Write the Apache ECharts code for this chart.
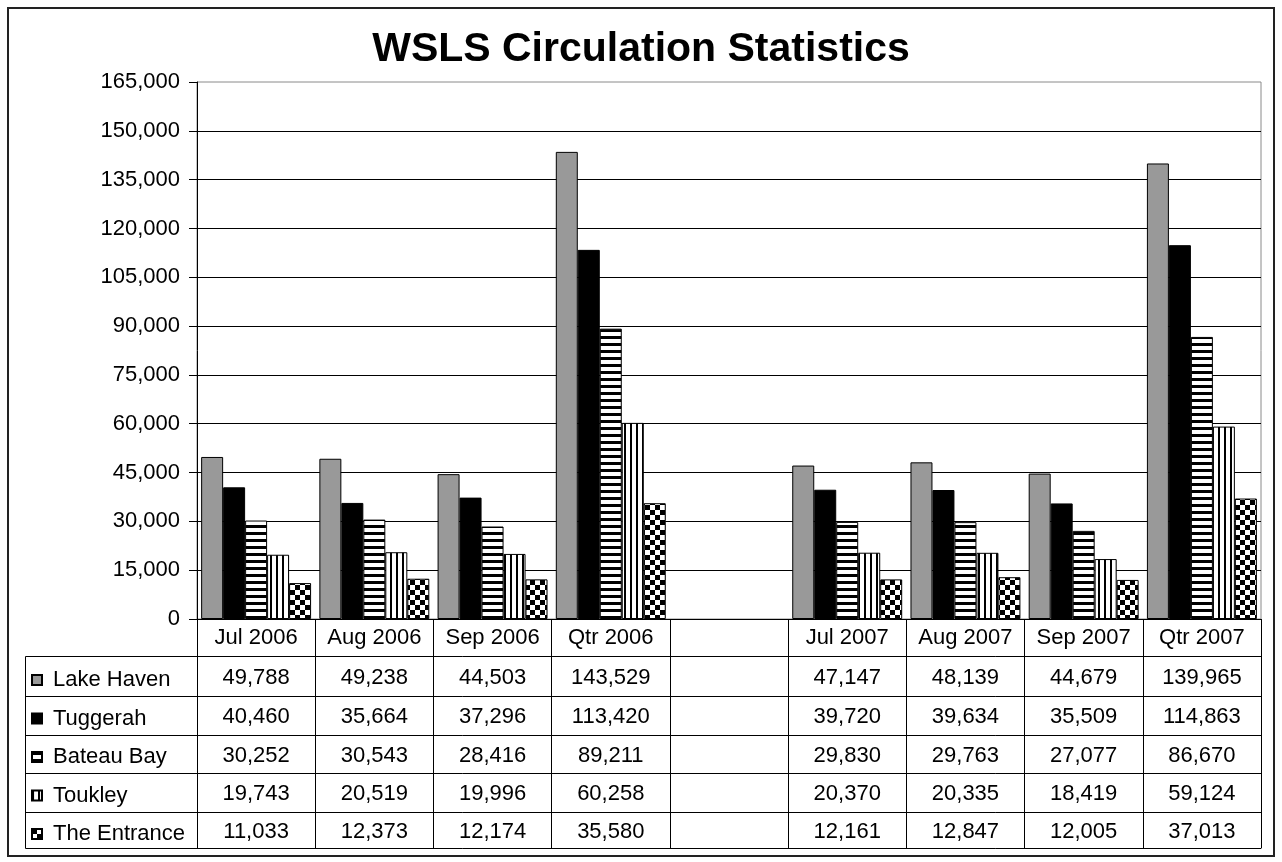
<!DOCTYPE html>
<html>
<head>
<meta charset="utf-8">
<title>WSLS Circulation Statistics</title>
<script src="https://cdn.jsdelivr.net/npm/echarts@6/dist/echarts.min.js"></script>
<style>
  html, body { margin: 0; padding: 0; background: #fff; }
  #chart { width: 1282px; height: 862px; }
</style>
</head>
<body>
<div id="chart"></div>
<script>
// ---- data ----
const categories = ['Jul 2006', 'Aug 2006', 'Sep 2006', 'Qtr 2006', '', 'Jul 2007', 'Aug 2007', 'Sep 2007', 'Qtr 2007'];
const seriesNames = ['Lake Haven', 'Tuggerah', 'Bateau Bay', 'Toukley', 'The Entrance'];
const lakeHaven   = [49788, 49238, 44503, 143529, null, 47147, 48139, 44679, 139965];
const tuggerah    = [40460, 35664, 37296, 113420, null, 39720, 39634, 35509, 114863];
const bateauBay   = [30252, 30543, 28416,  89211, null, 29830, 29763, 27077,  86670];
const toukley     = [19743, 20519, 19996,  60258, null, 20370, 20335, 18419,  59124];
const theEntrance = [11033, 12373, 12174,  35580, null, 12161, 12847, 12005,  37013];
const yMin = 0, yMax = 165000, yStep = 15000;

// ---- layout ----
const FONT = "'Liberation Sans', Arial, Helvetica, sans-serif";
const PLOT_LEFT = 197, PLOT_RIGHT = 1261, PLOT_TOP = 82, PLOT_BOTTOM = 619;
const TABLE_LEFT = 25;
const rowEdges = [656, 696, 735, 773, 812, 848];

// ---- fill patterns ----
function makePattern(w, h, draw) {
  const c = document.createElement('canvas');
  c.width = w; c.height = h;
  const g = c.getContext('2d');
  g.fillStyle = '#fff'; g.fillRect(0, 0, w, h);
  g.fillStyle = '#000';
  draw(g, w, h);
  return { image: c, repeat: 'repeat' };
}
const hStripes = makePattern(8, 7, (g, w) => g.fillRect(0, 0, w, 3));
const vStripes = makePattern(6, 8, (g, w, h) => g.fillRect(0, 0, 2, h));
const checker = makePattern(10, 10, g => { g.fillRect(0, 0, 5, 5); g.fillRect(5, 5, 5, 5); });

const seriesValues = [lakeHaven, tuggerah, bateauBay, toukley, theEntrance];
const seriesFills = ['#999999', '#000000', hStripes, vStripes, checker];

const fmt = v => (v == null ? '' : v.toLocaleString('en-US'));

const chart = echarts.init(document.getElementById('chart'), null, { renderer: 'canvas' });

// header row: category axis
const xAxes = [{
  type: 'category', gridIndex: 0, data: categories, position: 'bottom',
  axisLine: { show: true, lineStyle: { color: '#000', width: 1 } },
  axisTick: { show: true, interval: 0, length: rowEdges[0] - PLOT_BOTTOM, lineStyle: { color: '#000' } },
  axisLabel: { interval: 0, margin: (rowEdges[0] - PLOT_BOTTOM) / 2 - 11, fontSize: 22, lineHeight: 22, color: '#000', fontFamily: FONT },
  splitLine: { show: false }
}];
// table rows: one axis per series showing the values
seriesValues.forEach((vals, i) => {
  const h = rowEdges[i + 1] - rowEdges[i];
  xAxes.push({
    type: 'category', gridIndex: 0, data: categories, position: 'bottom',
    offset: rowEdges[i] - PLOT_BOTTOM,
    axisLine: { show: true, lineStyle: { color: '#000', width: 1 } },
    axisTick: { show: true, interval: 0, length: h, lineStyle: { color: '#000' } },
    axisLabel: {
      interval: 0, margin: h / 2 - 9.5, fontSize: 22, lineHeight: 22, color: '#000', fontFamily: FONT,
      formatter: (v, idx) => fmt(vals[idx])
    },
    splitLine: { show: false }
  });
});
// closing line under the table
xAxes.push({
  type: 'category', gridIndex: 0, data: categories, position: 'bottom',
  offset: rowEdges[rowEdges.length - 1] - PLOT_BOTTOM,
  axisLine: { show: true, lineStyle: { color: '#000', width: 1 } },
  axisTick: { show: false }, axisLabel: { show: false }, splitLine: { show: false }
});

// left column borders of the table
const tableLines = rowEdges.map(y => ({
  type: 'line', silent: true,
  shape: { x1: TABLE_LEFT + 0.5, y1: y + 0.5, x2: PLOT_LEFT + 0.5, y2: y + 0.5 },
  style: { stroke: '#000', lineWidth: 1 }
}));
tableLines.push({
  type: 'line', silent: true,
  shape: { x1: TABLE_LEFT + 0.5, y1: rowEdges[0] + 0.5, x2: TABLE_LEFT + 0.5, y2: rowEdges[rowEdges.length - 1] + 0.5 },
  style: { stroke: '#000', lineWidth: 1 }
});

const option = {
  animation: false,
  backgroundColor: '#fff',
  title: {
    text: 'WSLS Circulation Statistics',
    left: 'center', top: 24,
    textStyle: { fontSize: 41, fontWeight: 'bold', color: '#000', fontFamily: FONT, lineHeight: 41 }
  },
  legend: {
    orient: 'vertical', left: 26, top: 664,
    itemWidth: 10, itemHeight: 10, itemGap: 16.5,
    icon: 'rect', selectedMode: false,
    data: seriesNames,
    textStyle: { fontSize: 22, lineHeight: 22, color: '#000', fontFamily: FONT, padding: [0, 0, 0, 6] }
  },
  grid: {
    left: PLOT_LEFT, right: 1282 - PLOT_RIGHT, top: PLOT_TOP, bottom: 862 - PLOT_BOTTOM,
    show: true, borderColor: '#8a8a8a', borderWidth: 1, backgroundColor: '#fff'
  },
  xAxis: xAxes,
  yAxis: {
    type: 'value', min: yMin, max: yMax, interval: yStep,
    axisLine: { show: true, lineStyle: { color: '#000', width: 1 } },
    axisTick: { show: true, length: 8, inside: false, lineStyle: { color: '#000' } },
    axisLabel: { fontSize: 22, color: '#000', fontFamily: FONT, margin: 17, formatter: v => fmt(v) },
    splitLine: { show: true, showMaxLine: false, lineStyle: { color: '#000', width: 1 } }
  },
  series: seriesNames.map((name, i) => ({
    name, type: 'bar', xAxisIndex: 0, yAxisIndex: 0,
    data: seriesValues[i],
    barGap: '0%', barCategoryGap: '7%',
    itemStyle: { color: seriesFills[i], borderColor: '#000', borderWidth: 1 },
    emphasis: { disabled: true }
  })),
  graphic: [
    ...tableLines,
    {
      type: 'rect', silent: true,
      shape: { x: 8, y: 8, width: 1266, height: 848 },
      style: { fill: null, stroke: '#222', lineWidth: 2 }
    }
  ]
};
chart.setOption(option);
</script>
</body>
</html>
